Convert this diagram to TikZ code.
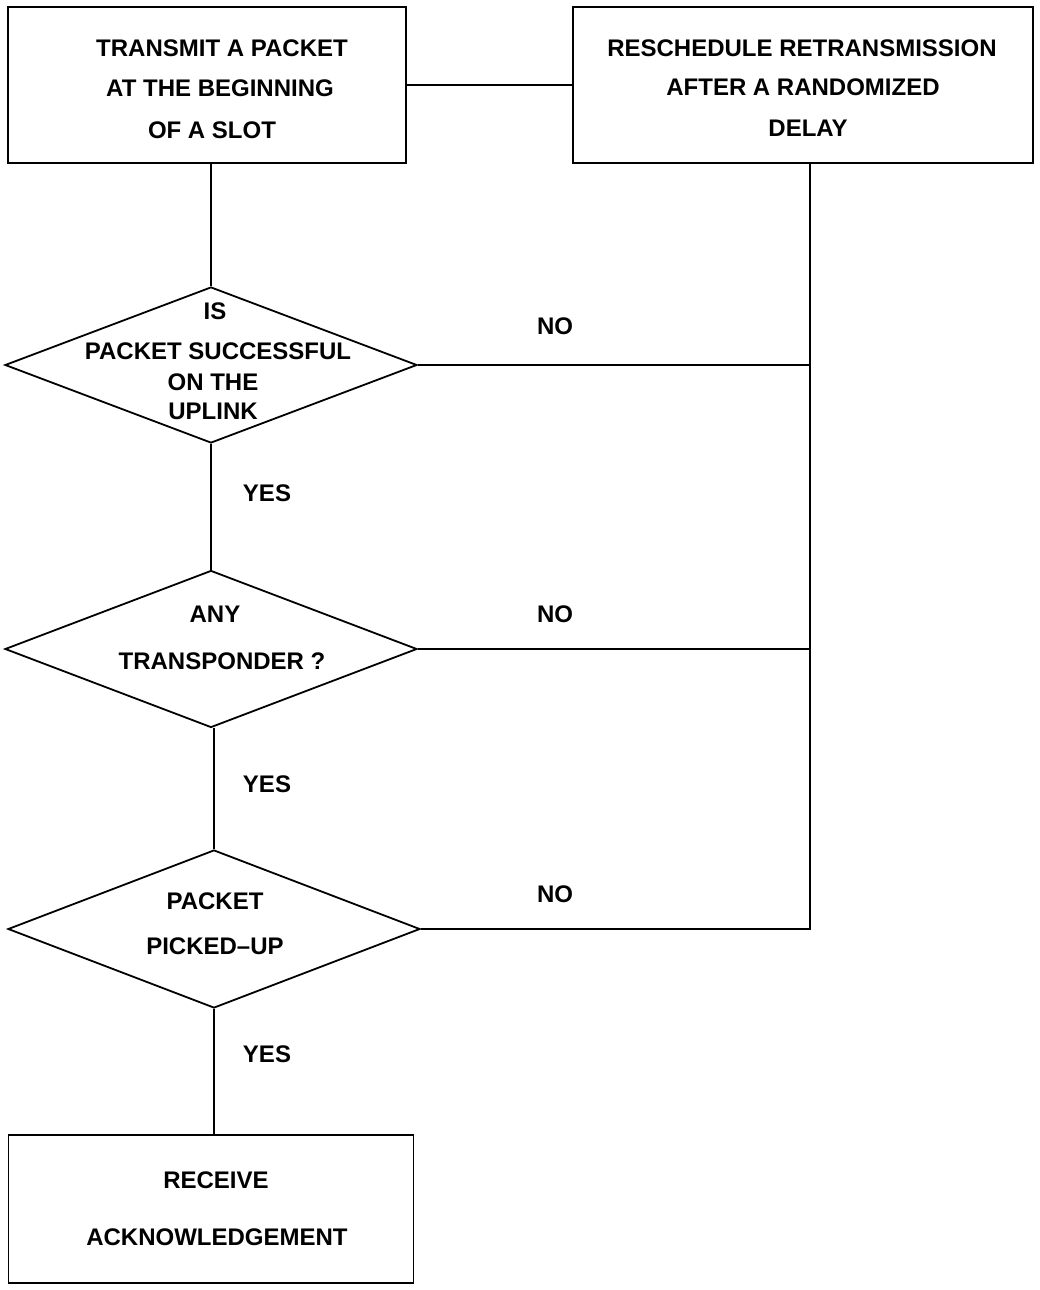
\documentclass[tikz,border=0pt]{standalone}
\usepackage{fontspec}
\setmainfont{Liberation Sans}
\usetikzlibrary{shapes.geometric}
\tikzset{
  box/.style={draw, line width=1.8pt, rectangle, inner sep=0pt},
  dia/.style={draw, line width=1.8pt, diamond, inner sep=0pt},
  lbl/.style={font=\fontsize{24}{28}\selectfont\bfseries, inner sep=0pt, anchor=center},
  conn/.style={line width=1.8pt}
}
\begin{document}
\begin{tikzpicture}[x=1pt, y=-1pt]
\useasboundingbox (0,0) rectangle (1040,1290);
% boxes
\node[box, minimum width=398pt, minimum height=156pt] (b1) at (207,85) {};
\node[box, minimum width=460pt, minimum height=156pt] (b2) at (803,85) {};
\node[box, minimum width=405pt, minimum height=148pt] (b3) at (211,1209) {};
% diamonds
\node[dia, minimum width=412pt, minimum height=156pt] (d1) at (211,365) {};
\node[dia, minimum width=412pt, minimum height=157pt] (d2) at (211,649) {};
\node[dia, minimum width=412pt, minimum height=158pt] (d3) at (214,929) {};
% right trunk
\coordinate (r3) at (810,929);
% connectors
\draw[conn] (b1.east) -- (b2.west);
\draw[conn] (d1.north) -- (d1.north |- b1.south);
\draw[conn] (d1.south) -- (d2.north);
\draw[conn] (d3.north) -- (d3.north |- d2.south);
\draw[conn] (d3.south) -- (d3.south |- b3.north);
\draw[conn] (d1.east) -- (d1.east -| r3);
\draw[conn] (d2.east) -- (d2.east -| r3);
\draw[conn] (d3.east) -- (r3) -- (r3 |- b2.south);
% box texts
\node[lbl] (t1a) at (222,48) {TRANSMIT A PACKET};
\node[lbl] (t1b) at (220,88) {AT THE BEGINNING};
\node[lbl] (t1c) at (212,130) {OF A SLOT};
\node[lbl] (t2a) at (802,48) {RESCHEDULE RETRANSMISSION};
\node[lbl] (t2b) at (803,87) {AFTER A RANDOMIZED};
\node[lbl] (t2c) at (808,128) {DELAY};
\node[lbl] (t3a) at (216,1180) {RECEIVE};
\node[lbl] (t3b) at (217,1237) {ACKNOWLEDGEMENT};
% diamond texts
\node[lbl] (q1a) at (215,311) {IS};
\node[lbl] (q1b) at (218,351) {PACKET SUCCESSFUL};
\node[lbl] (q1c) at (213,382) {ON THE};
\node[lbl] (q1d) at (213,411) {UPLINK};
\node[lbl] (q2a) at (215,614) {ANY};
\node[lbl] (q2b) at (222,661) {TRANSPONDER ?};
\node[lbl] (q3a) at (215,901) {PACKET};
\node[lbl] (q3b) at (215,946) {PICKED--UP};
% branch labels
\node[lbl] (n1) at (555,326) {NO};
\node[lbl] (n2) at (555,614) {NO};
\node[lbl] (n3) at (555,894) {NO};
\node[lbl] (y1) at (267,493) {YES};
\node[lbl] (y2) at (267,784) {YES};
\node[lbl] (y3) at (267,1054) {YES};
\end{tikzpicture}
\end{document}
